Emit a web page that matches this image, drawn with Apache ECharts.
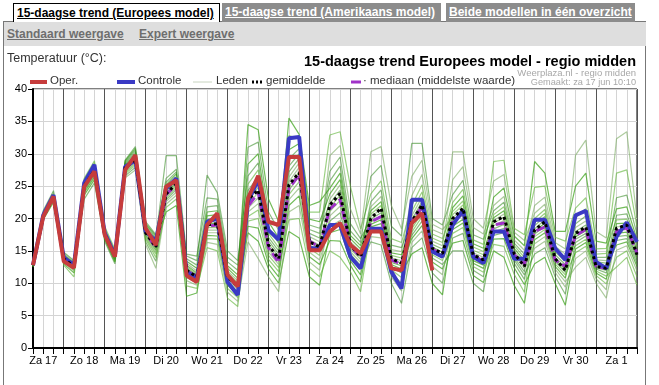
<!DOCTYPE html>
<html><head><meta charset="utf-8">
<script src="https://cdn.jsdelivr.net/npm/echarts@6/dist/echarts.min.js"></script>
<style>
html,body{margin:0;padding:0;background:#fff;width:659px;height:385px;overflow:hidden;font-family:"Liberation Sans",Arial,sans-serif;}
.tab{position:absolute;top:3px;height:19px;line-height:18px;font-size:12px;font-weight:bold;text-decoration:underline;box-sizing:border-box;padding-left:3px;white-space:nowrap;}
#t1{left:13px;width:207px;background:#fff;color:#000;border:1px solid #000;border-bottom:none;z-index:3;}
#t2{left:222px;width:219px;background:#8c8c8c;color:#fff;}
#t3{left:446px;width:189px;background:#8c8c8c;color:#fff;}
#bar{position:absolute;left:4px;top:21px;width:642px;height:25px;background:#dedede;border-top:1px solid #777;box-sizing:border-box;}
.lnk{position:absolute;top:5px;font-size:12px;font-weight:bold;color:#6e6e6e;text-decoration:underline;white-space:nowrap;}
#panel{position:absolute;left:3px;top:21px;width:643px;height:364px;border-left:1px solid #777;border-right:1px solid #777;box-sizing:border-box;}
#chart{position:absolute;left:0;top:45px;width:659px;height:340px;}
</style></head>
<body>
<div id="panel"></div>
<div id="bar"><span class="lnk" style="left:3px">Standaard weergave</span><span class="lnk" style="left:135px">Expert weergave</span></div>
<div class="tab" id="t1">15-daagse trend (Europees model)</div>
<div class="tab" id="t2">15-daagse trend (Amerikaans model)</div>
<div class="tab" id="t3">Beide modellen in één overzicht</div>
<div id="chart"></div>
<script>
// Dagen (label bij 12 uur), tijdstappen van 6 uur vanaf za 17 06:00
const dagen = ["Za 17","Zo 18","Ma 19","Di 20","Wo 21","Do 22","Vr 23","Za 24","Zo 25","Ma 26","Di 27","Wo 28","Do 29","Vr 30","Za 1","Zo 2"];
const uren = ["06","12","18","00"];
const yTicks = [0,5,10,15,20,25,30,35,40];

// Operationele run (rood)
const oper = [12.8,20.3,23.4,13.4,12.4,24.9,27.3,17.5,14.1,27.5,29.8,18.5,15.9,24.9,25.9,11.2,10.2,19.0,20.8,11.3,9.5,23.1,26.6,19.5,19.0,29.5,29.5,15.1,15.1,18.0,19.3,15.9,14.6,18.0,18.0,12.3,12.0,19.3,20.8,12.0];
// Controle run (blauw)
const controle = [12.8,20.5,23.6,14.0,12.8,25.5,28.3,17.8,14.3,28.0,29.0,18.0,16.5,24.6,26.2,11.8,10.8,19.5,20.0,10.2,8.2,22.6,26.0,18.2,16.7,32.4,32.6,15.4,15.4,19.0,19.0,14.1,12.3,18.4,18.4,11.8,9.2,22.9,22.9,14.9,14.1,19.0,21.3,14.1,13.1,18.0,18.0,13.8,13.8,19.8,19.8,15.4,13.6,20.5,21.2,13.3,12.3,17.2,19.4,16.4];
// Gemiddelde (zwart gestippeld)
const gemiddelde = [12.8,20.3,23.2,13.8,12.6,25.0,27.4,17.6,14.2,27.8,29.2,17.8,15.6,23.8,25.4,12.0,11.0,19.0,19.2,11.0,9.5,22.9,24.4,15.9,13.8,25.2,27.1,16.4,15.6,22.1,23.9,15.9,14.1,20.0,21.6,13.8,13.1,19.5,22.1,15.4,14.6,20.0,21.6,14.4,13.6,19.5,20.3,14.6,12.6,18.2,19.5,13.8,12.0,17.7,18.7,12.6,12.3,18.5,19.0,14.4];
// Mediaan (paars)
const mediaan = [12.8,20.3,23.3,13.8,12.6,25.0,27.5,17.6,14.2,27.8,29.3,17.8,15.5,23.7,25.2,12.0,11.0,18.8,19.0,11.0,9.5,21.9,24.0,15.5,13.2,24.6,26.8,16.5,15.6,21.5,22.9,15.8,14.0,19.5,20.3,13.6,12.9,19.6,21.8,15.3,14.4,19.6,20.8,14.3,13.4,19.0,19.3,14.4,13.0,18.0,18.7,13.6,12.6,17.4,18.3,12.6,12.3,18.0,18.6,14.6];

// Leden: per tijdstap de (gesorteerde) waarden van de 16 getekende leden
const ledenVerdeling = [
[12.5,12.6,12.6,12.7,12.7,12.7,12.8,12.8,12.8,12.9,12.9,13.0,13.0,13.1,13.3,13.5],
[19.8,19.9,20.0,20.1,20.1,20.2,20.2,20.3,20.3,20.4,20.5,20.5,20.6,20.8,21.0,21.2],
[22.5,22.6,22.8,22.9,23.0,23.0,23.1,23.2,23.2,23.3,23.4,23.5,23.6,23.8,24.0,24.3],
[12.8,13.0,13.2,13.4,13.5,13.6,13.7,13.8,13.8,13.9,14.0,14.1,14.2,14.4,14.6,14.8],
[11.0,11.6,11.9,12.1,12.3,12.4,12.5,12.6,12.7,12.8,12.9,13.0,13.1,13.2,13.4,13.5],
[23.0,23.6,24.0,24.3,24.5,24.7,24.9,25.0,25.1,25.3,25.4,25.5,25.7,25.9,26.0,26.2],
[25.5,26.0,26.4,26.7,26.9,27.1,27.3,27.4,27.5,27.7,27.8,28.0,28.2,28.4,28.6,28.9],
[16.5,16.8,17.0,17.1,17.3,17.4,17.5,17.6,17.7,17.8,17.9,18.0,18.1,18.3,18.5,18.8],
[13.0,13.3,13.5,13.7,13.8,14.0,14.1,14.2,14.3,14.4,14.5,14.6,14.8,14.9,15.0,15.2],
[26.3,26.6,26.9,27.1,27.3,27.5,27.6,27.8,27.9,28.0,28.2,28.3,28.5,28.7,28.9,29.0],
[27.5,27.9,28.2,28.5,28.7,28.9,29.0,29.2,29.3,29.5,29.7,29.9,30.2,30.5,30.8,31.1],
[16.0,16.4,16.8,17.0,17.2,17.4,17.6,17.8,17.9,18.1,18.3,18.5,18.7,19.0,19.2,19.5],
[12.3,13.4,14.0,14.5,14.8,15.1,15.4,15.6,15.8,16.0,16.2,16.5,16.8,17.0,17.3,17.5],
[21.0,21.7,22.2,22.6,22.9,23.2,23.5,23.7,23.9,24.2,24.5,24.8,25.2,25.6,26.2,29.7],
[22.0,23.0,23.6,24.1,24.5,24.8,25.1,25.3,25.6,25.9,26.2,26.5,26.9,27.2,27.6,29.7],
[8.0,9.6,10.4,10.9,11.3,11.6,11.9,12.1,12.3,12.6,12.8,13.1,13.4,13.8,14.2,14.5],
[8.5,9.2,9.7,10.1,10.4,10.6,10.8,11.0,11.2,11.4,11.6,11.9,12.3,12.8,13.5,14.2],
[15.5,16.3,16.9,17.4,17.8,18.2,18.6,18.9,19.2,19.5,19.9,20.4,21.0,21.8,23.2,26.7],
[15.0,16.0,16.8,17.3,17.8,18.2,18.6,19.0,19.3,19.7,20.1,20.6,21.2,22.0,23.0,24.0],
[7.7,8.6,9.2,9.7,10.1,10.5,10.8,11.0,11.3,11.6,11.9,12.3,12.7,13.3,14.0,15.0],
[6.4,7.2,7.8,8.3,8.7,9.0,9.3,9.5,9.8,10.1,10.4,10.8,11.3,12.0,12.8,13.5],
[16.4,17.8,18.8,19.6,20.3,21.0,21.6,22.2,22.8,23.5,24.3,25.3,26.6,28.4,31.0,34.5],
[13.8,16.5,18.5,20.0,21.3,22.3,23.2,24.0,24.8,25.6,26.5,27.5,28.6,30.0,31.8,33.7],
[11.0,12.2,13.0,13.7,14.3,14.8,15.3,15.7,16.1,16.6,17.1,17.7,18.5,19.5,21.0,23.0],
[8.7,10.0,11.0,11.8,12.4,12.9,13.3,13.7,14.1,14.5,15.0,15.5,16.2,17.0,18.2,19.5],
[18.0,19.8,21.0,22.0,22.9,23.7,24.4,25.0,25.7,26.4,27.2,28.1,29.2,30.6,32.8,35.5],
[17.0,20.0,22.0,23.5,24.7,25.7,26.5,27.2,27.9,28.6,29.3,30.0,30.8,31.6,32.3,33.0],
[11.0,12.3,13.3,14.1,14.8,15.4,15.9,16.3,16.7,17.2,17.7,18.3,19.0,19.9,21.0,22.0],
[9.7,11.0,12.0,12.9,13.6,14.3,14.9,15.4,15.9,16.4,17.0,17.7,18.5,19.5,21.0,22.6],
[15.0,16.6,17.8,18.8,19.6,20.4,21.1,21.7,22.3,23.0,23.8,24.7,25.8,27.3,29.7,32.9],
[14.0,16.5,18.3,19.7,20.9,21.9,22.8,23.6,24.4,25.2,26.0,27.0,28.1,29.5,31.3,33.4],
[11.8,12.8,13.5,14.0,14.5,14.9,15.3,15.7,16.0,16.4,16.9,17.4,18.1,19.2,21.5,25.0],
[8.7,10.2,11.3,12.1,12.7,13.2,13.7,14.1,14.5,14.9,15.3,15.8,16.3,16.9,17.6,18.4],
[16.4,17.2,17.8,18.3,18.7,19.1,19.5,19.9,20.3,20.7,21.2,21.8,22.6,23.8,26.5,30.3],
[15.9,17.0,17.9,18.6,19.2,19.8,20.4,20.9,21.4,22.0,22.6,23.4,24.4,25.8,28.2,31.1],
[10.0,11.0,11.6,12.1,12.5,12.9,13.2,13.6,13.9,14.3,14.7,15.2,15.9,16.9,18.8,22.0],
[6.9,8.8,10.0,10.9,11.6,12.2,12.7,13.1,13.5,13.9,14.4,14.9,15.5,16.3,17.3,18.4],
[14.5,15.5,16.3,16.9,17.4,17.9,18.4,18.9,19.3,19.8,20.4,21.1,22.0,23.5,26.5,31.6],
[15.5,17.0,18.1,18.9,19.6,20.3,20.9,21.5,22.0,22.6,23.3,24.1,25.2,26.8,29.0,31.6],
[10.0,11.6,12.6,13.3,13.9,14.4,14.8,15.2,15.6,16.0,16.5,17.0,17.6,18.3,19.1,20.0],
[8.2,10.0,11.3,12.2,12.9,13.5,14.0,14.4,14.8,15.3,15.8,16.3,16.9,17.6,18.3,19.0],
[15.0,16.2,17.0,17.7,18.3,18.8,19.3,19.7,20.1,20.6,21.1,21.7,22.5,23.7,26.0,30.3],
[15.0,16.6,17.7,18.6,19.3,19.9,20.5,21.0,21.5,22.1,22.7,23.5,24.5,25.9,28.0,30.3],
[10.0,11.2,12.0,12.6,13.1,13.5,13.9,14.3,14.7,15.1,15.6,16.1,16.7,17.5,18.6,20.0],
[8.7,10.1,11.0,11.7,12.3,12.8,13.2,13.6,14.0,14.4,14.9,15.4,16.0,16.8,17.6,18.5],
[15.0,16.0,16.8,17.4,17.9,18.4,18.9,19.3,19.7,20.1,20.6,21.2,22.0,23.3,25.8,28.8],
[14.0,15.7,16.9,17.8,18.5,19.1,19.7,20.2,20.7,21.2,21.8,22.5,23.4,24.7,26.8,29.0],
[9.7,11.4,12.4,13.1,13.6,14.0,14.4,14.7,15.0,15.4,15.8,16.2,16.7,17.3,17.9,18.5],
[6.9,8.6,9.8,10.6,11.3,11.8,12.3,12.7,13.1,13.5,14.0,14.5,15.1,15.8,16.6,17.5],
[13.0,14.5,15.4,16.1,16.7,17.2,17.6,18.0,18.4,18.9,19.4,20.0,20.8,22.0,24.8,28.8],
[14.0,15.5,16.5,17.2,17.8,18.3,18.8,19.3,19.8,20.3,20.8,21.4,22.2,23.3,25.0,27.0],
[10.0,11.0,11.7,12.2,12.6,13.0,13.4,13.7,14.0,14.4,14.8,15.2,15.7,16.3,17.1,18.0],
[6.6,8.3,9.4,10.2,10.8,11.3,11.7,12.1,12.5,12.9,13.4,13.9,14.5,15.3,16.5,18.0],
[12.5,13.8,14.7,15.3,15.8,16.3,16.8,17.2,17.6,18.0,18.6,19.2,20.1,21.6,25.0,29.8],
[14.0,15.0,15.7,16.3,16.8,17.3,17.7,18.1,18.5,19.0,19.6,20.4,21.5,23.2,27.0,32.1],
[10.0,10.7,11.2,11.6,11.9,12.2,12.4,12.7,13.0,13.3,13.6,14.0,14.5,15.3,16.5,18.0],
[7.7,9.0,9.9,10.6,11.1,11.6,12.0,12.3,12.7,13.1,13.5,14.0,14.6,15.4,16.2,17.0],
[12.5,14.0,15.1,15.9,16.6,17.2,17.7,18.2,18.7,19.2,19.8,20.5,21.5,23.2,27.0,32.3],
[14.0,15.0,15.8,16.4,16.9,17.4,17.9,18.3,18.8,19.3,19.9,20.7,21.8,23.6,27.5,33.4],
[9.7,11.0,11.9,12.6,13.1,13.6,14.0,14.4,14.8,15.2,15.7,16.2,16.8,17.6,18.7,20.0]
];
// Rang van elk lid (kolom) binnen de verdeling, per dagblok (rij)
const ledenRang = [
[0,1,2,3,4,5,6,7,8,9,10,11,12,13,14,15],
[1,0,3,2,5,4,7,6,9,8,11,10,13,12,15,14],
[2,4,0,6,1,8,3,10,5,12,7,14,9,15,11,13],
[5,3,1,0,9,2,12,4,14,6,15,7,11,8,13,10],
[8,6,4,2,0,1,15,3,12,5,14,7,10,9,13,11],
[12,9,7,5,3,0,14,1,11,2,15,4,8,6,13,10],
[15,11,9,7,1,3,10,0,13,4,12,6,2,8,14,5],
[13,14,10,8,0,5,6,2,15,1,11,9,3,7,12,4],
[10,15,12,9,2,7,4,5,11,0,13,14,1,6,8,3],
[6,13,14,11,5,9,0,8,10,3,7,15,4,2,12,1],
[3,12,15,13,8,11,1,10,7,6,4,14,0,5,9,2],
[1,10,13,15,11,12,2,14,4,9,0,8,5,3,7,6],
[0,7,11,14,13,15,5,12,2,10,3,6,9,1,4,8],
[4,5,8,12,15,14,9,13,0,11,6,3,7,10,1,2],
[7,2,6,10,14,13,11,15,3,12,9,0,8,4,5,1],
[9,1,5,8,12,10,13,15,6,14,11,2,3,0,4,7]
];

const ledenKleuren = ['rgba(55,160,20,0.7)','rgba(95,180,55,0.62)','rgba(45,135,25,0.55)','rgba(120,170,95,0.6)'];

const N = ledenVerdeling.length;
const categorieen = [];
for (let i = 0; i < N; i++) categorieen.push(dagen[Math.floor((i + 1) / 4)] + ' ' + uren[i % 4] + 'u');
const blok = i => (i === 0 ? 0 : Math.floor((i - 1) / 4) + 1);

const series = [];
const nLeden = ledenVerdeling[0].length;
for (let k = 0; k < nLeden; k++) {
  series.push({
    name: 'Leden', type: 'line', silent: true, symbol: 'none', z: 2,
    lineStyle: { width: 1.2, color: ledenKleuren[k % ledenKleuren.length] },
    data: ledenVerdeling.map((row, i) => row[ledenRang[blok(i)][k]])
  });
}
series.push({ name: 'mediaan', type: 'line', silent: true, symbol: 'none', z: 3,
  lineStyle: { width: 3, color: '#a032c8', type: [9, 4] }, data: mediaan });
series.push({ name: 'Controle', type: 'line', silent: true, symbol: 'none', z: 4,
  lineStyle: { width: 4, color: '#3a3ac4' }, data: controle });
series.push({ name: 'gemiddelde', type: 'line', silent: true, symbol: 'none', z: 5,
  lineStyle: { width: 3, color: '#000', type: [3, 3] }, data: gemiddelde });
series.push({ name: 'Oper.', type: 'line', silent: true, symbol: 'none', z: 6,
  lineStyle: { width: 4, color: '#c63c3c' }, data: oper });

const F = '"Liberation Sans", Arial, sans-serif';
const legY = 37;
const chart = echarts.init(document.getElementById('chart'), null, { renderer: 'canvas' });
chart.setOption({
  animation: false,
  backgroundColor: 'transparent',
  grid: { left: 33, top: 44, width: 604, height: 259, show: true, borderColor: '#000', borderWidth: 1, backgroundColor: 'transparent' },
  xAxis: [{
    type: 'category', data: categorieen, boundaryGap: false,
    axisLine: { lineStyle: { color: '#000', width: 2 } },
    axisTick: { show: true, interval: 0, length: 6, lineStyle: { color: '#000', width: 1 } },
    axisLabel: { interval: 0, color: '#000', fontSize: 11, fontFamily: F, margin: 7,
      formatter: (v, i) => (i % 4 === 1 ? dagen[Math.floor((i + 1) / 4)] : '') },
    splitLine: { show: true, interval: 0, lineStyle: { color: '#d4d4d4', width: 1 } }
  }, {
    type: 'category', data: categorieen, boundaryGap: false, position: 'bottom',
    axisLine: { show: false }, axisTick: { show: false }, axisLabel: { show: false },
    splitLine: { show: true, interval: (i) => i % 4 === 3, lineStyle: { color: '#555', width: 1 } }
  }],
  yAxis: {
    type: 'value', min: yTicks[0], max: yTicks[yTicks.length - 1], interval: 5,
    axisLine: { show: true, lineStyle: { color: '#000', width: 2 } },
    axisTick: { show: true, length: 5, lineStyle: { color: '#000' } },
    axisLabel: { color: '#000', fontSize: 11, fontFamily: F, margin: 6 },
    splitLine: { show: true, lineStyle: { color: '#d4d4d4', width: 1 } }
  },
  graphic: [
    { type: 'text', left: 7, top: 7, style: { text: 'Temperatuur (°C):', font: '12.5px ' + F, fill: '#333' } },
    { type: 'text', right: 23, top: 9, style: { text: '15-daagse trend Europees model - regio midden', font: 'bold 14.5px ' + F, fill: '#000' } },
    { type: 'text', right: 23, top: 23, style: { text: 'Weerplaza.nl - regio midden', font: '9.5px ' + F, fill: '#a8a8a8' } },
    { type: 'text', right: 23, top: 33, style: { text: 'Gemaakt: za 17 jun 10:10', font: '9.2px ' + F, fill: '#a8a8a8' } },
    { type: 'line', shape: { x1: 30, y1: legY, x2: 47, y2: legY }, style: { stroke: '#c63c3c', lineWidth: 4 } },
    { type: 'text', left: 50, top: legY - 7, style: { text: 'Oper.', font: '11.5px ' + F, fill: '#333' } },
    { type: 'line', shape: { x1: 117, y1: legY, x2: 135, y2: legY }, style: { stroke: '#3a3ac4', lineWidth: 4 } },
    { type: 'text', left: 138, top: legY - 7, style: { text: 'Controle', font: '11.5px ' + F, fill: '#333' } },
    { type: 'line', shape: { x1: 193, y1: legY, x2: 212, y2: legY }, style: { stroke: '#c8d4c0', lineWidth: 1 } },
    { type: 'text', left: 216, top: legY - 7, style: { text: 'Leden', font: '11.5px ' + F, fill: '#333' } },
    { type: 'line', shape: { x1: 252, y1: legY, x2: 263, y2: legY }, style: { stroke: '#000', lineWidth: 3, lineDash: [2, 2] } },
    { type: 'text', left: 266, top: legY - 7, style: { text: 'gemiddelde', font: '11.5px ' + F, fill: '#333' } },
    { type: 'line', shape: { x1: 351, y1: legY, x2: 361, y2: legY }, style: { stroke: '#a032c8', lineWidth: 3 } },
    { type: 'text', left: 363, top: legY - 7, style: { text: '· mediaan (middelste waarde)', font: '11.5px ' + F, fill: '#333' } }
  ],
  series: series
});
</script>
</body></html>
